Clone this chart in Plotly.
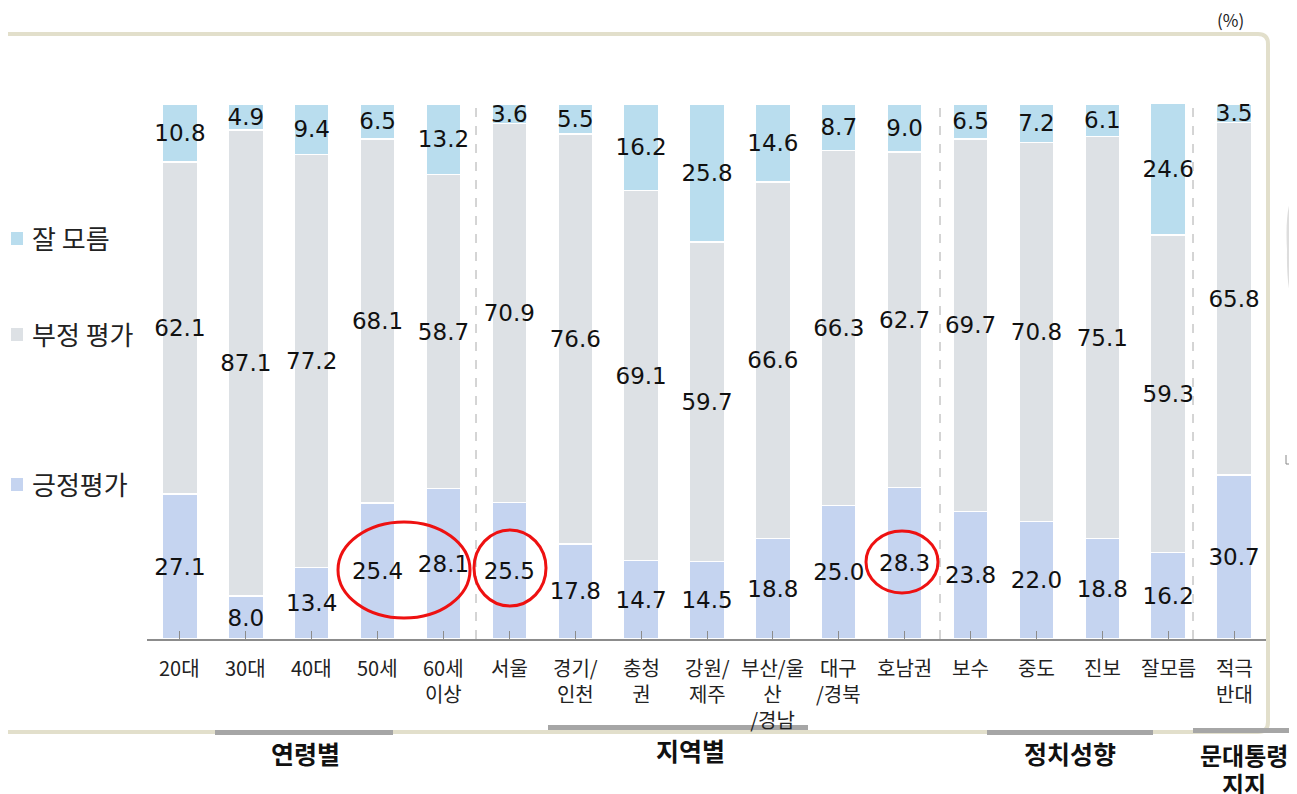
import plotly.graph_objects as go

# % Data
categories = [
    ["20대"], ["30대"], ["40대"], ["50세"], ["60세", "이상"],
    ["서울"], ["경기/", "인천"], ["충청", "권"], ["강원/", "제주"], ["부산/울", "산", "/경남"],
    ["대구", "/경북"], ["호남권"],
    ["보수"], ["중도"], ["진보"], ["잘모름"],
    ["적극", "반대"],
]
positive = [27.1, 8.0, 13.4, 25.4, 28.1, 25.5, 17.8, 14.7, 14.5, 18.8, 25.0, 28.3, 23.8, 22.0, 18.8, 16.2, 30.7]
negative = [62.1, 87.1, 77.2, 68.1, 58.7, 70.9, 76.6, 69.1, 59.7, 66.6, 66.3, 62.7, 69.7, 70.8, 75.1, 59.3, 65.8]
unknown = [10.8, 4.9, 9.4, 6.5, 13.2, 3.6, 5.5, 16.2, 25.8, 14.6, 8.7, 9.0, 6.5, 7.2, 6.1, 24.6, 3.5]

series_names = ["긍정평가", "부정 평가", "잘 모름"]
group_names = [["연령별"], ["지역별"], ["정치성향"], ["문대통령", "지지"]]

COLORS = ["#c5d4f0", "#dde1e5", "#b9ddee"]
KFONT = "Noto Sans CJK KR"

# plot area, in screenshot pixels (page body adds an 8px offset)
W, H = 1297, 794
OFF = 8
L, R, T, B = 147, 1267, 104, 639


def px_x(p):
    return (p - L) / (R - L)


def px_y(p):
    return (B - p) / (B - T)


fig = go.Figure()

for name, values, color in zip(series_names, [positive, negative, unknown], COLORS):
    fig.add_trace(
        go.Bar(
            x=list(range(len(categories))),
            y=values,
            name=name,
            marker=dict(color=color, line=dict(color="white", width=1.5)),
            text=[f"{v:.1f}" for v in values],
            textposition="inside",
            insidetextanchor="middle",
            textangle=0,
            textfont=dict(family="DejaVu Sans", size=23, color="#111"),
            hoverinfo="skip",
        )
    )

shapes = []
annotations = []

# beige rounded frame
fl, ft, fr, fb = px_x(-5), px_y(34), px_x(1268), px_y(732)
rx, ry = 10 / (R - L), 10 / (B - T)
shapes.append(
    dict(
        type="path", xref="paper", yref="paper",
        path=(
            f"M {fl},{ft} L {fr - rx},{ft} Q {fr},{ft} {fr},{ft - ry} "
            f"L {fr},{fb + ry} Q {fr},{fb} {fr - rx},{fb} L {fl},{fb}"
        ),
        line=dict(color="#e2dfcb", width=4),
    )
)

# gray bars under the group names
for x0, x1, y0 in [(215, 393, 730), (548, 808, 725), (987, 1153, 730), (1193, 1300, 728)]:
    shapes.append(
        dict(type="rect", xref="paper", yref="paper",
             x0=px_x(x0), x1=px_x(x1), y0=px_y(y0), y1=px_y(y0 + 5),
             fillcolor="#a6a6a6", line=dict(width=0))
    )

# dashed separators between groups
for xs in [476, 940, 1193]:
    shapes.append(
        dict(type="line", xref="paper", yref="paper",
             x0=px_x(xs), x1=px_x(xs), y0=px_y(B), y1=px_y(100),
             line=dict(color="#aaaaaa", width=1, dash="dash"))
    )

# red highlight ellipses
for x0, x1, y0, y1 in [(338, 470, 522, 618), (474, 546, 530, 606), (866, 938, 531, 593)]:
    shapes.append(
        dict(type="circle", xref="paper", yref="paper",
             x0=px_x(x0), x1=px_x(x1), y0=px_y(y1), y1=px_y(y0),
             line=dict(color="#ee1111", width=3))
    )

# legend drawn by hand (uneven spacing in the original)
for name, color, ly in zip(series_names, COLORS, [483, 333, 237]):
    shapes.append(
        dict(type="rect", xref="paper", yref="paper",
             x0=px_x(11), x1=px_x(23), y0=px_y(ly + 8), y1=px_y(ly - 5),
             fillcolor=color, line=dict(width=0))
    )
    annotations.append(
        dict(text=name, xref="paper", yref="paper", x=px_x(30), y=px_y(ly),
             xanchor="left", yanchor="middle", showarrow=False,
             font=dict(family=KFONT, size=26, color="#222"))
    )

# category labels under each bar
for i, lines in enumerate(categories):
    annotations.append(
        dict(text="<br>".join(lines), xref="x", yref="paper", x=i, y=px_y(651),
             xanchor="center", yanchor="top", align="center", showarrow=False,
             font=dict(family=KFONT, size=20, color="#222"))
    )

# group titles, one line at a time
for lines, xc, yc in zip(group_names, [305, 690, 1070, 1244], [753, 750, 753, 754]):
    for j, line in enumerate(lines):
        annotations.append(
            dict(text=f"<b>{line}</b>", xref="paper", yref="paper", x=px_x(xc),
                 y=px_y(yc + 29 * j), xanchor="center", yanchor="middle", showarrow=False,
                 font=dict(family=KFONT, size=24 if len(lines) > 1 else 25, color="#111"))
        )

annotations.append(
    dict(text="(%)", xref="paper", yref="paper", x=px_x(1230), y=px_y(20),
         xanchor="center", yanchor="middle", showarrow=False,
         font=dict(family=KFONT, size=17, color="#222"))
)

# small artifacts at right edge
shapes.append(
    dict(type="path", xref="paper", yref="paper",
         path=f"M {px_x(1300)},{px_y(188)} Q {px_x(1284)},{px_y(195)} {px_x(1287)},{px_y(250)} "
              f"Q {px_x(1286)},{px_y(305)} {px_x(1300)},{px_y(310)} Z",
         fillcolor="rgba(120,120,120,0.25)", line=dict(width=0))
)
shapes.append(
    dict(type="path", xref="paper", yref="paper",
         path=f"M {px_x(1286)},{px_y(455)} L {px_x(1286)},{px_y(464)} L {px_x(1296)},{px_y(464)}",
         line=dict(color="#888888", width=1))
)

fig.update_layout(
    width=W,
    height=H,
    barmode="stack",
    bargap=0.47,
    showlegend=False,
    plot_bgcolor="white",
    paper_bgcolor="white",
    margin=dict(l=L - OFF, r=W - (R - OFF), t=T - OFF, b=H - (B - OFF), pad=0, autoexpand=False),
    uniformtext=dict(minsize=23, mode="show"),
    shapes=shapes,
    annotations=annotations,
)

fig.update_xaxes(
    range=[-0.5, len(categories) - 0.5],
    tickmode="array",
    tickvals=list(range(len(categories))),
    showticklabels=False,
    tickson="boundaries",
    showline=True,
    linecolor="#8c8c8c",
    linewidth=1.5,
    ticks="inside",
    ticklen=8,
    tickcolor="#8c8c8c",
    showgrid=False,
    zeroline=False,
    automargin=False,
)
fig.update_yaxes(range=[0, 100], visible=False, fixedrange=True)

fig.write_html("out.html")
